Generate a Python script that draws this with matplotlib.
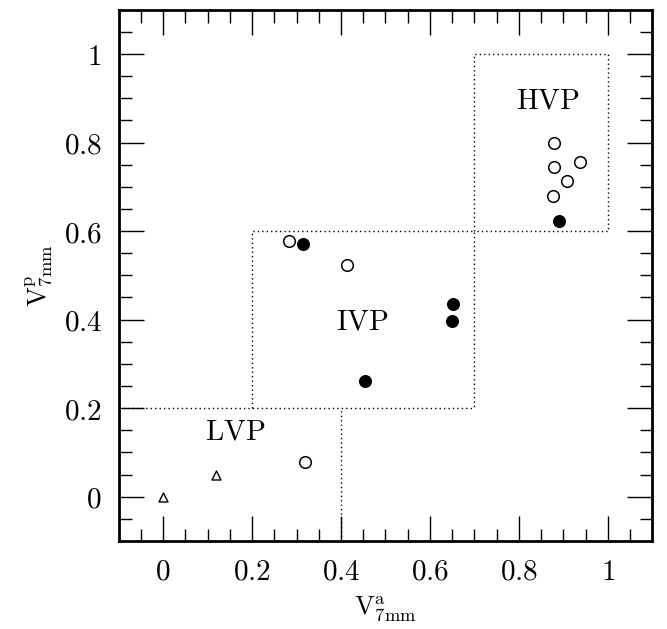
import matplotlib
matplotlib.use("Agg")
import matplotlib.pyplot as plt
import numpy as np

plt.rcParams['mathtext.fontset'] = 'cm'
plt.rcParams['font.family'] = 'serif'

# Data
tri_x = [0.0, 0.119]
tri_y = [0.0, 0.050]
open_x = [0.319, 0.283, 0.413, 0.879, 0.879, 0.908, 0.937, 0.876]
open_y = [0.079, 0.578, 0.524, 0.799, 0.745, 0.712, 0.756, 0.679]
fill_x = [0.315, 0.454, 0.652, 0.649, 0.890]
fill_y = [0.571, 0.262, 0.436, 0.397, 0.623]

tick_vals = [0, 0.2, 0.4, 0.6, 0.8, 1.0]
tick_labels = ["0", "0.2", "0.4", "0.6", "0.8", "1"]

region_names = ["LVP", "IVP", "HVP"]
region_label_x = [0.162, 0.447, 0.865]
region_label_y = [0.147, 0.395, 0.896]

fig = plt.figure(figsize=(6.67, 6.29), dpi=100)
ax = fig.add_axes([118.5/667, 1-541/629, (652.5-118.5)/667, (541-9.7)/629])

ax.set_xlim(-0.1, 1.1)
ax.set_ylim(-0.1, 1.1)

dot = dict(color='black', lw=1.0, ls=(0, (1, 2.2)))
# LVP region boundaries
ax.plot([-0.1, 0.7], [0.2, 0.2], **dot)
ax.plot([0.4, 0.4], [-0.1, 0.2], **dot)
# IVP box
ax.plot([0.2, 0.2, 0.7, 0.7], [0.2, 0.6, 0.6, 0.2], **dot)
# HVP box
ax.plot([0.7, 0.7, 1.0, 1.0, 0.7], [0.6, 1.0, 1.0, 0.6, 0.6], **dot)

ax.scatter(tri_x, tri_y, marker='^', s=42, facecolors='white', edgecolors='black', linewidths=1.0, zorder=3)
ax.scatter(open_x, open_y, marker='o', s=70, facecolors='white', edgecolors='black', linewidths=1.1, zorder=3)
ax.scatter(fill_x, fill_y, marker='o', s=70, facecolors='black', edgecolors='black', linewidths=1.0, zorder=3)

for name, lx, ly in zip(region_names, region_label_x, region_label_y):
    ax.text(lx, ly, r'$\mathrm{%s}$' % name, fontsize=21, ha='center', va='center')

ax.set_xticks(tick_vals)
ax.set_yticks(tick_vals)
ax.set_xticklabels([r'$%s$' % t for t in tick_labels])
ax.set_yticklabels([r'$%s$' % t for t in tick_labels])
ax.set_xticks(np.arange(-0.05, 1.1, 0.05), minor=True)
ax.set_yticks(np.arange(-0.05, 1.1, 0.05), minor=True)

ax.tick_params(which='both', direction='in', top=True, right=True, labelsize=21, width=1.0)
ax.tick_params(which='major', length=18, pad=12)
ax.tick_params(which='minor', length=9)
for s in ax.spines.values():
    s.set_linewidth(2)

ax.set_xlabel(r'$\mathrm{V}^{\mathrm{a}}_{\mathrm{7mm}}$', fontsize=19, labelpad=6)
ax.set_ylabel(r'$\mathrm{V}^{\mathrm{p}}_{\mathrm{7mm}}$', fontsize=19, labelpad=6)

fig.savefig('out.png', dpi=100)
